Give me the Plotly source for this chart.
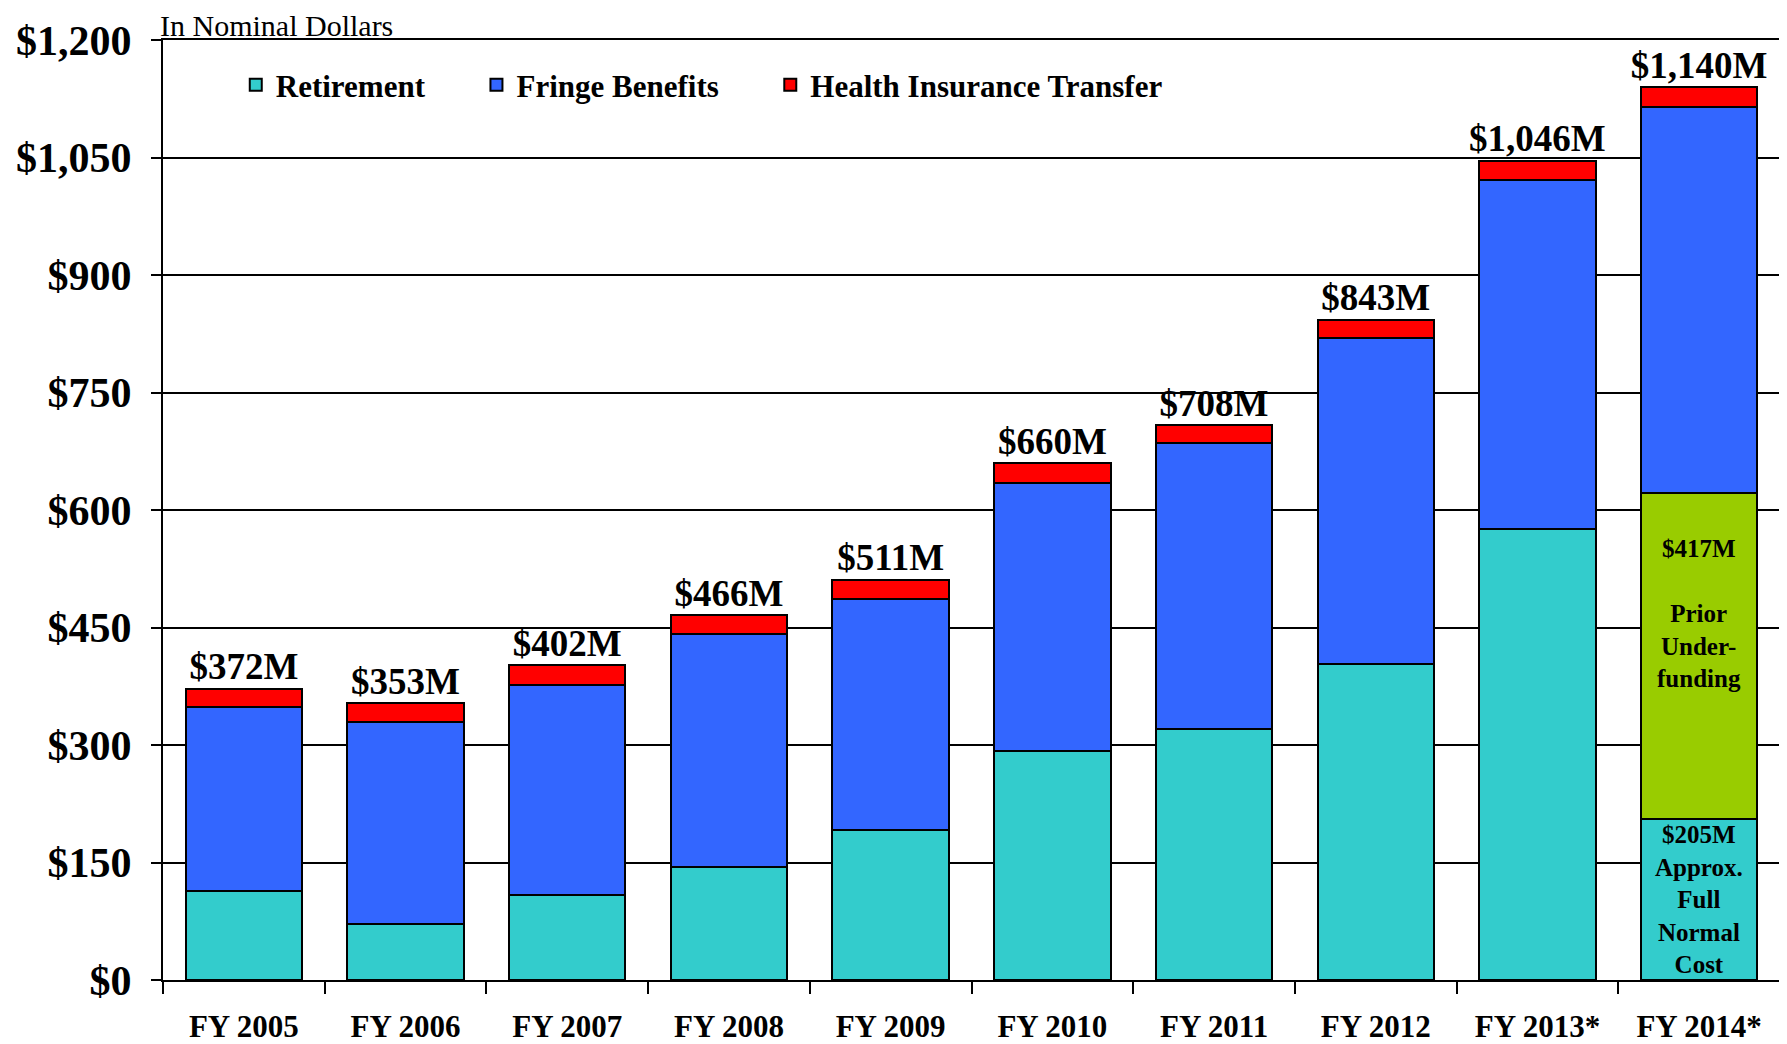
import plotly.graph_objects as go

# ---- data (millions of nominal dollars) ----
years = ["FY 2005", "FY 2006", "FY 2007", "FY 2008", "FY 2009",
         "FY 2010", "FY 2011", "FY 2012", "FY 2013*", "FY 2014*"]
retirement = [113, 71, 108, 144, 192, 292, 321, 403, 576, 205]
prior_underfunding = [None, None, None, None, None, None, None, None, None, 417]
fringe = [235, 258, 269, 298, 295, 342, 364, 416, 445, 492]
health = [24, 24, 25, 24, 24, 26, 23, 24, 25, 26]
totals = [372, 353, 402, 466, 511, 660, 708, 843, 1046, 1140]
total_labels = ["$372M", "$353M", "$402M", "$466M", "$511M",
                "$660M", "$708M", "$843M", "$1,046M", "$1,140M"]

C_RET = "#33CCCC"
C_FRINGE = "#3366FF"
C_HEALTH = "#FF0000"
C_PRIOR = "#99CC00"
SERIF = "Liberation Serif"
NB = "\u00a0"

fig = go.Figure()

bar_line = dict(color="black", width=2)

fig.add_trace(go.Bar(x=years, y=retirement, name="Retirement" + NB * 6,
                     marker=dict(color=C_RET, line=bar_line)))
fig.add_trace(go.Bar(x=years, y=prior_underfunding, name="Prior Underfunding",
                     showlegend=False, marker=dict(color=C_PRIOR, line=bar_line)))
fig.add_trace(go.Bar(x=years, y=fringe, name="Fringe Benefits" + NB * 6,
                     marker=dict(color=C_FRINGE, line=bar_line)))
fig.add_trace(go.Bar(x=years, y=health, name="Health Insurance Transfer",
                     marker=dict(color=C_HEALTH, line=bar_line)))

# total labels above each bar
fig.add_trace(go.Scatter(
    x=years, y=totals, mode="text", text=total_labels,
    textposition="top center", showlegend=False,
    textfont=dict(family=SERIF, size=37, color="black", weight="bold"),
    cliponaxis=False,
))

# notes inside FY 2014 bar
fig.add_annotation(
    x=years[-1], y=retirement[-1] / 2, xref="x", yref="y",
    text="<b>$205M<br>Approx.<br>Full<br>Normal<br>Cost</b>",
    showarrow=False, yanchor="middle",
    font=dict(family=SERIF, size=25, color="black"),
)
fig.add_annotation(
    x=years[-1], y=retirement[-1] + prior_underfunding[-1], xref="x", yref="y",
    text="<b>$417M<br><br>Prior<br>Under-<br>funding</b>",
    showarrow=False, yanchor="top", yshift=-40,
    font=dict(family=SERIF, size=25, color="black"),
)

fig.add_annotation(
    x=0, y=1, xref="paper", yref="paper", xanchor="left", yanchor="bottom",
    xshift=-5, yshift=-4, text="In Nominal Dollars", showarrow=False,
    font=dict(family=SERIF, size=30, color="black"),
)

# page body has an 8px margin, so the figure is a bit smaller and shifted
fig.update_layout(
    width=1779, height=1036,
    barmode="stack", bargap=0.28,
    paper_bgcolor="white", plot_bgcolor="white",
    margin=dict(l=155, r=7, t=32, b=64, autoexpand=False),
    font=dict(family=SERIF, color="black"),
    legend=dict(
        orientation="h", x=0.045, y=0.952, xanchor="left", yanchor="middle",
        bgcolor="rgba(0,0,0,0)", traceorder="normal",
        font=dict(family=SERIF, size=31, color="black", weight="bold"),
    ),
)

fig.update_yaxes(
    range=[0, 1200], dtick=150, tickprefix="$", tickformat=",",
    showgrid=True, gridcolor="black", gridwidth=2,
    showline=True, linecolor="black", linewidth=2, mirror=True,
    ticks="outside", ticklen=10, tickwidth=2, tickcolor="black",
    ticklabelstandoff=11, zeroline=False, automargin=False,
    tickfont=dict(family=SERIF, size=42, color="black", weight="bold"),
)
fig.update_xaxes(
    showline=True, linecolor="black", linewidth=2, mirror=True,
    ticks="outside", tickson="boundaries", ticklen=12, tickwidth=2, tickcolor="black",
    ticklabelstandoff=18, automargin=False,
    tickfont=dict(family=SERIF, size=31, color="black", weight="bold"),
)

fig.write_html("out.html")
